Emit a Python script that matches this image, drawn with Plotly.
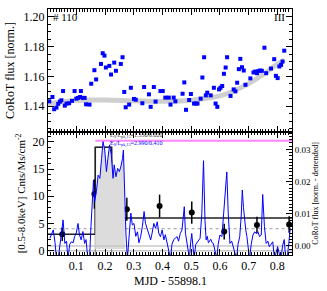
import numpy as np
import plotly.graph_objects as go

# ---------------- data ----------------
# top panel: CoRoT flux (normalized)
top_x = [0.006,0.017,0.023,0.031,0.037,0.043,0.048,0.054,0.060,0.066,0.075,0.085,0.094,0.100,0.106,0.113,0.116,0.123,0.129,0.134,
         0.146,0.152,0.163,0.169,0.186,0.192,0.198,0.203,0.215,0.221,0.232,0.238,0.255,0.261,0.267,0.272,0.284,0.290,0.301,0.307,
         0.330,0.336,0.353,0.359,0.370,0.376,0.393,0.401,0.410,0.422,0.428,0.439,0.445,0.470,0.476,0.482,0.493,0.499,0.510,0.516,
         0.522,0.533,0.539,0.545,0.551,0.556,0.568,0.579,0.585,0.591,0.597,0.602,0.608,0.614,0.620,0.625,0.637,0.648,0.654,0.660,
         0.666,0.671,0.677,0.683,0.689,0.706,0.717,0.723,0.729,0.734,0.740,0.746,0.755,0.761,0.778,0.789,0.795,0.801,0.807,0.813,
         0.818,0.824]
top_flux = [1.1433,1.1462,1.1380,1.1391,1.1416,1.1431,1.1440,1.1502,1.1404,1.1418,1.1420,1.1436,1.1502,1.1451,1.1456,1.1462,1.1502,1.1456,1.1456,1.1413,
            1.1411,1.1551,1.1642,1.1580,1.1684,1.1756,1.1740,1.1660,1.1671,1.1613,1.1693,1.1638,1.1684,1.1729,1.1496,1.1393,1.1411,1.1524,1.1449,1.1444,
            1.1420,1.1529,1.1480,1.1396,1.1529,1.1431,1.1502,1.1502,1.1458,1.1458,1.1411,1.1458,1.1433,1.1484,1.1560,1.1376,1.1442,1.1482,1.1418,1.1418,
            1.1418,1.1451,1.1593,1.1729,1.1473,1.1491,1.1473,1.1524,1.1418,1.1396,1.1513,1.1524,1.1536,1.1618,1.1660,1.1729,1.1469,1.1513,1.1500,1.1558,
            1.1649,1.1718,1.1662,1.1640,1.1544,1.1587,1.1627,1.1633,1.1622,1.1636,1.1640,1.1638,1.1793,1.1622,1.1653,1.1716,1.1604,1.1589,1.1667,1.1678,
            1.1700,1.1773]
trend_x = [0.0,0.1,0.2,0.3,0.4,0.5,0.55,0.6,0.64,0.7,0.754,0.79,0.825]
trend_flux = [1.1415,1.1440,1.1442,1.1437,1.1433,1.1440,1.1452,1.1470,1.1496,1.1552,1.1618,1.1670,1.1712]

# bottom panel: X-ray rate (binned) with errors
xray_x = [0.051,0.163,0.276,0.390,0.502,0.615,0.729,0.841]
xray_rate = [3.0,10.4,7.6,8.2,7.0,3.5,4.7,4.8]
xray_err = [1.25,2.7,2.1,2.1,2.05,1.45,1.55,1.5]

# Bayesian-block step function
block_edges = [0.0,0.166,0.223,0.86]
block_rates = [3.0,19.0,6.0]
quiescent_level = 4.05          # dotted line
pink_level = 20.2
pink_start = 0.166
flare_end = 0.269
fill_base = -0.0009

# detrended CoRoT flux (units of 1e-3)
blue_x = [0.008,0.014,0.020,0.026,0.031,0.037,0.043,0.048,0.054,0.060,0.066,0.071,0.077,0.083,0.089,0.094,0.100,0.106,0.111,0.117,
          0.123,0.129,0.134,0.140,0.146,0.151,0.155,0.160,0.164,0.170,0.176,0.182,0.188,0.193,0.199,0.205,0.210,0.216,0.222,0.228,
          0.232,0.238,0.244,0.250,0.255,0.261,0.264,0.269,0.273,0.278,0.284,0.290,0.295,0.301,0.307,0.313,0.318,0.324,0.330,0.336,
          0.341,0.347,0.353,0.359,0.364,0.370,0.376,0.382,0.387,0.393,0.399,0.405,0.410,0.416,0.422,0.428,0.433,0.439,0.445,0.451,
          0.456,0.462,0.468,0.476,0.480,0.485,0.490,0.494,0.498,0.502,0.506,0.510,0.516,0.522,0.526,0.531,0.537,0.543,0.548,0.552,
          0.556,0.560,0.564,0.568,0.573,0.577,0.583,0.589,0.594,0.600,0.607,0.614,0.619,0.624,0.629,0.635,0.641,0.646,0.652,0.658,
          0.663,0.669,0.674,0.678,0.682,0.686,0.690,0.694,0.699,0.703,0.709,0.715,0.721,0.727,0.732,0.738,0.744,0.749,0.755,0.761,
          0.767,0.772,0.778,0.784,0.790,0.795,0.801,0.807,0.813,0.818,0.824,0.829,0.834,0.840,0.845]
blue_milli = [2.4,3.6,5.0,1.0,-4,-4,-0.2,3.0,8.1,0.8,1.5,-4,0.5,1.3,1.0,2.9,4.0,7.0,3.5,1.9,
              4.5,0.8,2.0,-4,-4,6.0,12.7,20.5,13.8,16.9,22.0,21.0,27.2,32.4,29.8,23.1,27.2,31.4,28.3,21.0,
              25.2,21.5,24.1,23.1,24.6,27.2,29.8,11.7,3.4,-4,3.0,10.2,6.5,7.0,3.0,4.4,1.0,2.9,6.0,10.7,
              7.0,5.0,3.0,1.9,4.0,7.0,5.5,7.5,4.0,2.9,5.0,1.9,3.5,1.3,-1.0,-4,0.5,1.9,2.5,2.9,
              1.5,3.9,5.0,12.2,4.0,0.8,-2.0,-4,1.0,3.9,0.0,-4,0.5,1.3,2.0,2.4,10.0,26.5,8.0,1.9,
              3.0,1.0,1.5,2.1,1.0,0.8,-1.5,-4,0.5,3.4,2.9,11.2,15.3,23.0,10.0,0.8,1.5,-0.2,-2.0,-4,
              0.5,2.9,9.0,17.4,12.0,8.1,5.0,2.9,0.0,-4,0.5,3.4,4.4,3.9,4.5,2.9,3.4,16.0,6.0,0.8,
              1.5,-0.2,0.5,1.3,-4,-2.0,-0.2,-2.5,-4,0.0,2.0,-4,-4,1.0,5.5]

blue_flux = np.array(blue_milli) * 1e-3
blue_x = np.array(blue_x)

# ---------------- figure ----------------
SERIF = "Liberation Serif"
BLUE = "#0000ff"
fig = go.Figure()

# top panel
fig.add_trace(go.Scatter(x=trend_x, y=trend_flux, mode="lines", line=dict(color="#cfcfcf", width=5, shape="spline"),
                         xaxis="x", yaxis="y", hoverinfo="skip"))
fig.add_trace(go.Scatter(x=top_x, y=top_flux, mode="markers", marker=dict(color=BLUE, size=4, symbol="square"),
                         xaxis="x", yaxis="y"))

# bottom panel: fill under flare part of blue curve (right axis)
m = (blue_x >= block_edges[1]) & (blue_x <= flare_end)
fx = np.concatenate([[block_edges[1]], blue_x[m], [flare_end, flare_end, block_edges[1]]])
fy = np.concatenate([[np.interp(block_edges[1], blue_x, blue_flux)], blue_flux[m],
                     [np.interp(flare_end, blue_x, blue_flux), fill_base, fill_base]])
fig.add_trace(go.Scatter(x=fx, y=fy, mode="lines", fill="toself", fillcolor="#dcdcdc",
                         line=dict(width=0, color="#dcdcdc"), xaxis="x2", yaxis="y3", hoverinfo="skip"))
# gray reference lines
fig.add_trace(go.Scatter(x=[block_edges[0], block_edges[-1]], y=[0, 0], mode="lines",
                         line=dict(color="#c8c8c8", width=1.5), xaxis="x2", yaxis="y3"))
fig.add_trace(go.Scatter(x=[block_edges[0], block_edges[-1]], y=[0, 0], mode="lines",
                         line=dict(color="#c8c8c8", width=1.5), xaxis="x2", yaxis="y2"))
fig.add_trace(go.Scatter(x=[block_edges[0], block_edges[-1]], y=[quiescent_level]*2, mode="lines",
                         line=dict(color="#b0b0b0", width=1.2, dash="dot"), xaxis="x2", yaxis="y2"))
# blue detrended curve
fig.add_trace(go.Scatter(x=blue_x, y=blue_flux, mode="lines", line=dict(color=BLUE, width=1),
                         xaxis="x2", yaxis="y3"))
# gray box for flare block
fig.add_trace(go.Scatter(x=[block_edges[1], block_edges[1], block_edges[2], block_edges[2]],
                         y=[-1, block_rates[1], block_rates[1], -1], mode="lines",
                         line=dict(color="#777777", width=1), xaxis="x2", yaxis="y2"))
# step function
sx, sy = [], []
for i, r in enumerate(block_rates):
    sx += [block_edges[i], block_edges[i+1]]
    sy += [r, r]
fig.add_trace(go.Scatter(x=sx, y=sy, mode="lines", line=dict(color="#222222", width=1.6),
                         xaxis="x2", yaxis="y2"))
# pink line
fig.add_trace(go.Scatter(x=[pink_start, block_edges[-1]], y=[pink_level]*2, mode="lines",
                         line=dict(color="#ff88ff", width=2), xaxis="x2", yaxis="y2"))
# binned points
fig.add_trace(go.Scatter(x=xray_x, y=xray_rate, mode="markers",
                         marker=dict(color="black", size=6),
                         error_y=dict(type="data", array=xray_err, color="black", thickness=1.5, width=0),
                         xaxis="x2", yaxis="y2", cliponaxis=False))

tickfont = dict(family=SERIF, size=12, color="black")
common_x = dict(range=[0.0015, 0.851], showline=True, linecolor="black", linewidth=1, mirror="ticks",
                ticks="inside", ticklen=6, tickcolor="black", dtick=0.1, tick0=0, showgrid=False, zeroline=False,
                minor=dict(ticks="inside", ticklen=3, dtick=0.01, tickcolor="black"))
fig.update_layout(
    width=327, height=291, showlegend=False,
    paper_bgcolor="white", plot_bgcolor="white",
    margin=dict(l=48, r=32, t=8, b=36),
    font=dict(family=SERIF, color="black"),
    xaxis=dict(domain=[0, 1], anchor="y", showticklabels=False, **common_x),
    yaxis=dict(domain=[0.5, 1], anchor="x", range=[1.1227, 1.2053], dtick=0.02, tick0=1.14, tickformat=".2f",
               showline=True, linecolor="black", linewidth=1, mirror="ticks", ticks="inside", ticklen=6,
               tickcolor="black", showgrid=False, zeroline=False, tickfont=tickfont,
               minor=dict(ticks="inside", ticklen=3, dtick=0.005, tickcolor="black"),
               title=dict(text="CoRoT flux [norm.]", font=dict(family=SERIF, size=12), standoff=6)),
    xaxis2=dict(domain=[0, 1], anchor="y2", matches="x", tickfont=tickfont, tickformat=".1f", **common_x),
    yaxis2=dict(domain=[0, 0.5], anchor="x2", range=[-0.8, 21.8], dtick=5, tick0=0,
                showline=True, linecolor="black", linewidth=1, ticks="inside", ticklen=6,
                tickcolor="black", showgrid=False, zeroline=False, tickfont=tickfont,
                minor=dict(ticks="inside", ticklen=3, dtick=1, tickcolor="black"),
                title=dict(text="[0.5-8.0keV] Cnts/Ms/cm<sup>-2</sup>", font=dict(family=SERIF, size=11), standoff=4)),
    yaxis3=dict(overlaying="y2", side="right", anchor="x2", range=[-0.0028, 0.0354], dtick=0.01, tick0=0,
                tickformat=".2f", showline=True, linecolor="black", linewidth=1, ticks="inside", ticklen=6,
                tickcolor="black", showgrid=False, zeroline=False,
                tickfont=dict(family=SERIF, size=9, color="black"),
                minor=dict(ticks="inside", ticklen=3, dtick=0.001, tickcolor="black"),
                title=dict(text="CoRoT flux [norm. - detrended]", font=dict(family=SERIF, size=8), standoff=2)),
)

fig.add_annotation(x=0.5, y=-0.105, xref="paper", yref="paper", text="MJD - 55898.1", showarrow=False,
                   xanchor="center", yanchor="middle", font=dict(family=SERIF, size=12))
fig.add_annotation(x=0.005, y=1.2053, xref="x", yref="y", text="# 110", showarrow=False,
                   xanchor="left", yanchor="top", font=dict(family=SERIF, size=11), xshift=2)
fig.add_annotation(x=0.851, y=1.2053, xref="x", yref="y", text="III", showarrow=False,
                   xanchor="right", yanchor="top", font=dict(family=SERIF, size=11), xshift=-5)
fig.add_annotation(x=0.209, y=21.0, xref="x2", yref="y2", text="E<sub>0</sub>/L<sub>pk,15</sub>=1.330/0.020",
                   showarrow=False, xanchor="left", yanchor="middle", font=dict(family=SERIF, size=6, color="#333333"))
fig.add_annotation(x=0.209, y=19.6, xref="x2", yref="y2", text="E<sub>0</sub>/L<sub>pk,15</sub>=2.990/0.410",
                   showarrow=False, xanchor="left", yanchor="middle", font=dict(family=SERIF, size=6, color=BLUE))

fig.write_html("out.html", config={"displayModeBar": False},
               post_script="document.body.style.margin='0';document.body.style.overflow='hidden';")
